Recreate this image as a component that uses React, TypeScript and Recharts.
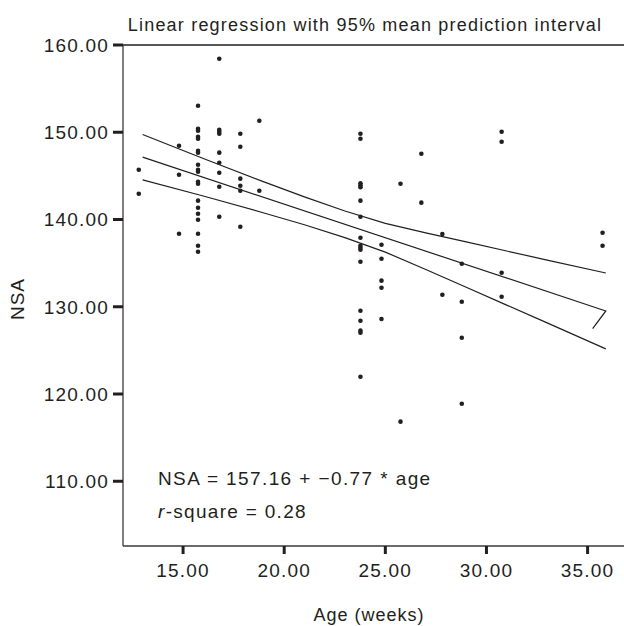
import { ScatterChart, Scatter, XAxis, YAxis, ReferenceLine } from 'recharts'

// point readings (age in weeks, NSA)
const pointAges = [
  12.81, 12.81,
  14.8, 14.8, 14.8,
  15.74, 15.74, 15.74, 15.74, 15.74, 15.74, 15.74, 15.74, 15.74, 15.74,
  15.74, 15.74, 15.74, 15.74, 15.74, 15.74, 15.74, 15.74, 15.74,
  16.79, 16.79, 16.79, 16.79, 16.79, 16.79, 16.79, 16.79, 16.79,
  17.83, 17.83, 17.83, 17.83, 17.83, 17.83,
  18.77, 18.77,
  23.77, 23.77, 23.77, 23.77, 23.77, 23.77, 23.77, 23.77, 23.77,
  23.77, 23.77, 23.77, 23.77, 23.77, 23.77, 23.77, 23.77,
  24.81, 24.81, 24.81, 24.81, 24.81,
  25.75, 25.75,
  26.78, 26.78,
  27.82, 27.82,
  28.78, 28.78, 28.78, 28.78,
  30.75, 30.75, 30.75, 30.75,
  35.74, 35.74,
]
const pointNsa = [
  145.7, 142.96,
  148.46, 145.13, 138.37,
  153.04, 150.4, 150.18, 149.49, 149.26, 147.88, 147.66, 146.28, 145.7, 145.48,
  144.33, 144.1, 142.16, 141.35, 140.66, 139.98, 138.37, 137.0, 136.31,
  158.43, 150.29, 150.06, 149.83, 147.66, 146.51, 145.36, 143.76, 140.32,
  149.83, 148.34, 144.68, 143.87, 143.3, 139.17,
  151.32, 143.3,
  149.83, 149.26, 144.15, 143.92, 143.69, 142.16, 140.32, 137.91, 137.0,
  136.77, 136.54, 135.16, 129.55, 128.4, 127.26, 127.03, 121.98,
  137.11, 135.51, 132.99, 132.18, 128.6,
  144.1, 116.83,
  147.54, 141.93,
  138.34, 131.38,
  134.93, 130.58, 126.45, 118.89,
  150.06, 148.92, 133.9, 131.15,
  138.49, 137.0,
]

// fitted line, as drawn (including the little hook at the right end)
const fitAges = [13, 35.9, 35.25]
const fitNsa = [147.15, 129.52, 127.5]

// 95% mean prediction band
const bandAges = [13, 16, 19, 21, 23, 25, 27, 29, 31, 33, 35.9]
const upperNsa = [149.75, 146.99, 144.31, 142.6, 140.97, 139.56, 138.47, 137.43, 136.39, 135.35, 133.87]
const lowerNsa = [144.55, 142.69, 140.75, 139.4, 137.93, 136.26, 134.27, 132.23, 130.19, 128.15, 125.17]

const xTicks = [15, 20, 25, 30, 35]
const yTicks = [110, 120, 130, 140, 150, 160]

const INK = '#231f20'
const FONT = '"Liberation Sans", Arial, Helvetica, sans-serif'

const toRows = (xs: number[], ys: number[]) => xs.map((age, i) => ({ age, nsa: ys[i] }))

const points = toRows(pointAges, pointNsa)
const fit = toRows(fitAges, fitNsa)
const upper = toRows(bandAges, upperNsa)
const lower = toRows(bandAges, lowerNsa)

const noDot = () => <g />

const tickStyle = { fill: INK, fontSize: 19, fontFamily: FONT, letterSpacing: 1.2 }

export default function App() {
  return (
    <div style={{ position: 'absolute', left: 0, top: 0, width: 624, height: 626, background: '#fff' }}>
      <ScatterChart width={624} height={626} margin={{ top: 45, right: 0, bottom: 0, left: 0 }}>
        <XAxis
          type="number"
          dataKey="age"
          domain={[12.03, 36.8]}
          ticks={xTicks}
          tickFormatter={(v: number) => v.toFixed(2)}
          height={80}
          tickSize={8}
          tickMargin={10}
          tick={tickStyle}
          axisLine={{ stroke: '#3a3a3a', strokeWidth: 1.3 }}
          tickLine={{ stroke: INK, strokeWidth: 3 }}
          allowDataOverflow
        />
        <YAxis
          type="number"
          dataKey="nsa"
          domain={[102.58, 160]}
          ticks={yTicks}
          tickFormatter={(v: number) => v.toFixed(2)}
          width={123}
          tickSize={10}
          tickMargin={4}
          tick={tickStyle}
          axisLine={{ stroke: '#3a3a3a', strokeWidth: 1.3 }}
          tickLine={{ stroke: INK, strokeWidth: 3 }}
          allowDataOverflow
        />
        <ReferenceLine y={160} stroke={INK} strokeWidth={1.3} />
        <Scatter data={upper} shape={noDot} line={{ stroke: INK, strokeWidth: 1.2 }} lineType="joint" isAnimationActive={false} />
        <Scatter data={fit} shape={noDot} line={{ stroke: INK, strokeWidth: 1.2 }} lineType="joint" isAnimationActive={false} />
        <Scatter data={lower} shape={noDot} line={{ stroke: INK, strokeWidth: 1.2 }} lineType="joint" isAnimationActive={false} />
        <Scatter
          data={points}
          fill={INK}
          shape={(p: any) => <circle cx={p.cx} cy={p.cy} r={2.3} fill={INK} />}
          isAnimationActive={false}
        />
      </ScatterChart>
      <svg
        width={624}
        height={626}
        style={{ position: 'absolute', left: 0, top: 0, pointerEvents: 'none' }}
        fontFamily={FONT}
        fill={INK}
      >
        <text x={365} y={31} fontSize={18} textAnchor="middle" letterSpacing={1.2}>
          Linear regression with 95% mean prediction interval
        </text>
        <text x={369} y={621} fontSize={18} textAnchor="middle" letterSpacing={1}>
          Age (weeks)
        </text>
        <text
          x={0}
          y={0}
          fontSize={19}
          textAnchor="middle"
          letterSpacing={1}
          transform="translate(24 299) rotate(-90)"
        >
          NSA
        </text>
        <text x={158} y={485} fontSize={19} letterSpacing={1.4}>
          NSA = 157.16 + −0.77 * age
        </text>
        <text x={158} y={518} fontSize={19} letterSpacing={1.3}>
          <tspan fontStyle="italic">r</tspan>-square = 0.28
        </text>
      </svg>
    </div>
  )
}
